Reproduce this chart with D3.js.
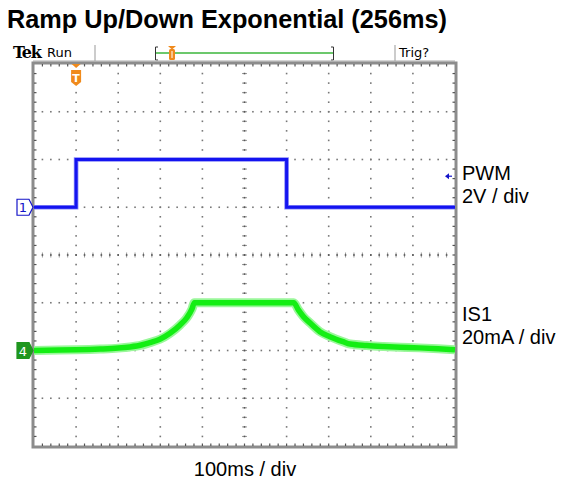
<!DOCTYPE html>
<html><head><meta charset="utf-8">
<script src="https://cdn.jsdelivr.net/npm/d3@7"></script>
<style>html,body{margin:0;padding:0;background:#fff;}svg{display:block;}</style>
</head><body>
<svg id="c" width="565" height="480"></svg>
<script>
// ---- data ----
const title = "Ramp Up/Down Exponential (256ms)";
const timeDomain = [-100, 900];           // ms, 100 ms/div, trigger at 0
const divRange = [-4, 4];                 // vertical divisions
const pwmTime  = [-100, 0, 0, 500, 500, 900];
const pwmVolts = [0, 0, 2, 2, 0, 0];
const trigLevelV = 1.3;
const curTime = [-100, -40, 0, 57, 100, 128, 155, 175, 199, 223, 247, 263, 275, 281, 350, 430, 517, 528, 540, 556, 579, 603, 634, 651, 690, 730, 770, 815, 860, 900];
const curMA   = [0, 0.2, 0.3, 0.6, 1.0, 1.5, 2.3, 3.3, 4.7, 7.2, 10.7, 13.7, 17.3, 20.0, 20.0, 20.0, 20.0, 17.0, 14.2, 11.5, 7.9, 5.8, 3.7, 2.7, 2.1, 1.7, 1.4, 1.1, 0.7, 0.3];
const pwmLabel = ["PWM", "2V / div"];
const curLabel = ["IS1", "20mA / div"];
const timeLabel = "100ms / div";
const pwmScale = 2, pwmOffsetDiv = 1;   // V/div, ground position
const curScale = 20, curOffsetDiv = -2; // mA/div, ground position

const svg = d3.select("#c");
const X0 = 34, X1 = 455, Y0 = 64, Y1 = 446;
const x = d3.scaleLinear().domain(timeDomain).range([X0, X1]);
const y = d3.scaleLinear().domain(divRange).range([Y1, Y0]);
const xd = d3.scaleLinear().domain([0, 10]).range([X0, X1]); // divisions horiz

// title
svg.append("text").attr("x", 7).attr("y", 28).text(title)
  .attr("font-family", "Liberation Sans, Arial, sans-serif").attr("font-weight", "bold").attr("font-size", 25.3);

// header
svg.append("text").attr("x", 13).attr("y", 58).text("Tek")
  .attr("font-family", "DejaVu Serif, serif").attr("font-weight", "bold").attr("font-size", 16).attr("letter-spacing", -1.2);
svg.append("text").attr("x", 47).attr("y", 57).text("Run")
  .attr("font-family", "DejaVu Sans, sans-serif").attr("font-size", 13);
svg.append("line").attr("x1", 95).attr("x2", 95).attr("y1", 45).attr("y2", 61).attr("stroke", "#999");
svg.append("line").attr("x1", 395).attr("x2", 395).attr("y1", 45).attr("y2", 61).attr("stroke", "#999");
svg.append("text").attr("x", 399).attr("y", 57).text("Trig?")
  .attr("font-family", "DejaVu Sans, sans-serif").attr("font-size", 13);
// trigger bar
svg.append("line").attr("x1", 156).attr("x2", 333).attr("y1", 53).attr("y2", 53).attr("stroke", "#6cc86c").attr("stroke-width", 2);
svg.append("path").attr("d", "M158,47 L155.5,47 L155.5,60 L158,60").attr("fill", "none").attr("stroke", "#333").attr("stroke-width", 1);
svg.append("path").attr("d", "M331,47 L333.5,47 L333.5,60 L331,60").attr("fill", "none").attr("stroke", "#333").attr("stroke-width", 1);
svg.append("path").attr("d", "M168,46 L176,46 L172,49.5 Z").attr("fill", "#f08a1c");
svg.append("rect").attr("x", 169).attr("y", 49).attr("width", 6).attr("height", 11).attr("rx", 1.5).attr("fill", "#f08a1c");
svg.append("line").attr("x1", 172).attr("x2", 172).attr("y1", 51).attr("y2", 58).attr("stroke", "#fff").attr("stroke-width", 1);

// frame
svg.append("line").attr("x1", X0 - 1).attr("x2", X1).attr("y1", 61).attr("y2", 61).attr("stroke", "#aaa");
svg.append("rect").attr("x", X0 - 1).attr("y", Y0 - 1).attr("width", X1 - X0 + 2).attr("height", Y1 - Y0 + 2)
  .attr("fill", "none").attr("stroke", "#8c8c8c").attr("stroke-width", 3);

// grid dots
const g = svg.append("g");
const dots = [];
for (let k = 1; k < 10; k++) {
  if (k === 5) continue;
  for (let j = 1; j < 40; j++) dots.push([xd(k), y(-4 + j / 5)]);
}
for (let k = -3; k <= 3; k++) {
  if (k === 0) continue;
  for (let j = 1; j < 50; j++) dots.push([xd(j / 5), y(k)]);
}
g.selectAll("rect.d").data(dots).join("rect").attr("class", "d")
  .attr("x", d => d[0] - 0.8).attr("y", d => d[1] - 0.8).attr("width", 1.6).attr("height", 1.6).attr("fill", "#777");
// center crosshair ticks
const ct = [];
for (let j = 1; j < 50; j++) ct.push({x1: xd(j / 5), y1: y(0) - (j % 5 === 0 ? 0 : 2.5), x2: xd(j / 5), y2: y(0) + (j % 5 === 0 ? 0 : 2.5)});
for (let j = 1; j < 40; j++) ct.push({x1: xd(5) - 2.5, y1: y(-4 + j / 5), x2: xd(5) + 2.5, y2: y(-4 + j / 5)});
g.selectAll("line.ct").data(ct).join("line").attr("class", "ct")
  .attr("x1", d => d.x1).attr("x2", d => d.x2).attr("y1", d => d.y1).attr("y2", d => d.y2)
  .attr("stroke", "#999").attr("stroke-width", 1);
g.selectAll("rect.cd").data(d3.range(1, 50).map(j => [xd(j / 5), y(0)]).concat(d3.range(1, 40).map(j => [xd(5), y(-4 + j / 5)])))
  .join("rect").attr("class", "cd")
  .attr("x", d => d[0] - 0.8).attr("y", d => d[1] - 0.8).attr("width", 1.6).attr("height", 1.6).attr("fill", "#555");
// edge ticks
const et = [];
for (let j = 1; j < 50; j++) {
  et.push({x1: xd(j / 5), x2: xd(j / 5), y1: Y0, y2: Y0 + 2.5});
  et.push({x1: xd(j / 5), x2: xd(j / 5), y1: Y1, y2: Y1 - 2.5});
}
for (let j = 1; j < 40; j++) {
  et.push({x1: X0, x2: X0 + 2.5, y1: y(-4 + j / 5), y2: y(-4 + j / 5)});
  et.push({x1: X1, x2: X1 - 2.5, y1: y(-4 + j / 5), y2: y(-4 + j / 5)});
}
g.selectAll("line.et").data(et).join("line").attr("class", "et")
  .attr("x1", d => d.x1).attr("x2", d => d.x2).attr("y1", d => d.y1).attr("y2", d => d.y2)
  .attr("stroke", "#555").attr("stroke-width", 1.2);

// traces
const pwmLine = d3.line().x((d, i) => x(pwmTime[i])).y((d, i) => y(pwmOffsetDiv + pwmVolts[i] / pwmScale));
const curLine = d3.line().x((d, i) => x(curTime[i])).y((d, i) => y(curOffsetDiv + curMA[i] / curScale)).curve(d3.curveMonotoneX);
svg.append("path").attr("d", curLine(curTime)).attr("fill", "none").attr("stroke", "#9af79a").attr("stroke-width", 9).attr("stroke-linejoin", "round");
svg.append("path").attr("d", curLine(curTime)).attr("fill", "none").attr("stroke", "#14ee14").attr("stroke-width", 5.5).attr("stroke-linejoin", "round");
svg.append("path").attr("d", pwmLine(pwmTime)).attr("fill", "none").attr("stroke", "#8a8af8").attr("stroke-width", 4.6);
svg.append("path").attr("d", pwmLine(pwmTime)).attr("fill", "none").attr("stroke", "#1414f0").attr("stroke-width", 3);

// channel markers
function marker(yc, fill, stroke, txt, tcol) {
  const p = `M17,${yc - 8} L29,${yc - 8} L33,${yc} L29,${yc + 8} L17,${yc + 8} Z`;
  svg.append("path").attr("d", p).attr("fill", fill).attr("stroke", stroke).attr("stroke-width", 1.2);
  svg.append("text").attr("x", 23).attr("y", yc + 5).attr("text-anchor", "middle").text(txt)
    .attr("font-family", "DejaVu Sans, sans-serif").attr("font-size", 13).attr("fill", tcol);
}
marker(y(pwmOffsetDiv), "#fff", "#1414c8", "1", "#1414c8");
marker(y(curOffsetDiv), "#1e961e", "#1e961e", "4", "#fff");

// trigger position marker
const tx = x(0);
svg.append("path").attr("d", `M${tx - 4.5},${Y0} L${tx + 4.5},${Y0} L${tx},${Y0 + 4} Z`).attr("fill", "#f08a1c");
svg.append("path").attr("d", `M${tx - 5},${Y0 + 6} L${tx + 5},${Y0 + 6} L${tx + 5},${Y0 + 18} L${tx},${Y0 + 22} L${tx - 5},${Y0 + 18} Z`).attr("fill", "#f08a1c");
svg.append("text").attr("x", tx).attr("y", Y0 + 18).attr("text-anchor", "middle").text("T")
  .attr("font-family", "DejaVu Sans, sans-serif").attr("font-weight", "bold").attr("font-size", 11).attr("fill", "#fff");

// trigger level arrow
const ty = y(pwmOffsetDiv + trigLevelV / pwmScale);
svg.append("path").attr("d", `M445,${ty} L449,${ty - 3} L449,${ty + 3} Z`).attr("fill", "#1414c8");
svg.append("line").attr("x1", 448).attr("x2", 452).attr("y1", ty).attr("y2", ty).attr("stroke", "#1414c8").attr("stroke-width", 1.2);

// right labels
const lf = "Liberation Sans, Arial, sans-serif";
svg.append("text").attr("x", 462).attr("y", 180).text(pwmLabel[0]).attr("font-family", lf).attr("font-size", 20);
svg.append("text").attr("x", 462).attr("y", 203).text(pwmLabel[1]).attr("font-family", lf).attr("font-size", 20);
svg.append("text").attr("x", 462).attr("y", 321).text(curLabel[0]).attr("font-family", lf).attr("font-size", 20);
svg.append("text").attr("x", 462).attr("y", 344).text(curLabel[1]).attr("font-family", lf).attr("font-size", 20);
svg.append("text").attr("x", 245).attr("y", 476).attr("text-anchor", "middle").text(timeLabel).attr("font-family", lf).attr("font-size", 20);
</script>
</body></html>
